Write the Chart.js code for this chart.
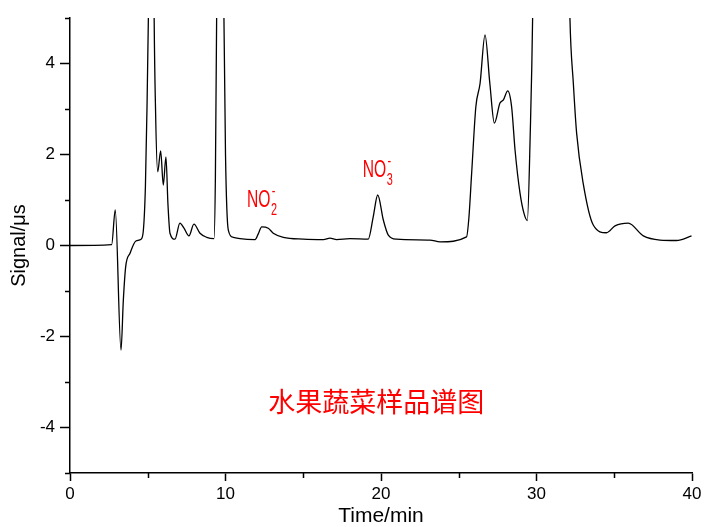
<!DOCTYPE html>
<html>
<head>
<meta charset="utf-8">
<script src="https://cdn.jsdelivr.net/npm/chart.js@4"></script>
<style>
  html, body { margin: 0; padding: 0; background: #fff; }
  #wrap { width: 705px; height: 527px; }
</style>
</head>
<body>
<div id="wrap"><canvas id="chromChart" width="705" height="527"></canvas></div>
<script>
// retention time (min) and conductivity signal (uS)
const times = [0, 2.68, 2.91, 3.28, 3.43, 3.58, 3.86, 4.24, 4.57, 4.72, 4.85, 4.95, 5.04, 5.18, 5.3, 5.4, 5.5, 5.64, 5.83, 6.0, 6.17, 6.3, 6.43, 6.75, 7.07, 7.33, 7.65, 7.97, 8.36, 8.79, 9.26, 9.35, 9.43, 9.6, 9.8, 9.9, 10.0, 10.18, 10.5, 10.93, 11.9, 12.1, 12.33, 12.75, 13.07, 13.72, 15.0, 16.3, 16.72, 17.15, 18.0, 19.18, 19.5, 19.79, 20.15, 20.47, 21.0, 23.15, 23.8, 25.5, 25.65, 25.83, 26.1, 26.37, 26.69, 27.0, 27.29, 27.65, 27.87, 28.15, 28.4, 28.62, 28.94, 29.2, 29.41, 29.6, 29.75, 30.2, 31.0, 31.8, 32.15, 32.37, 32.58, 33.0, 33.65, 34.5, 35.05, 35.9, 36.87, 37.94, 39.0, 39.97];
const signal = [0, 0.02, 0.78, -2.3, -1.2, -0.47, -0.17, 0.1, 0.14, 0.34, 1.3, 3.0, 5.0, 10, 12.5, 5.5, 3.0, 1.62, 2.08, 1.33, 1.95, 0.9, 0.27, 0.14, 0.49, 0.38, 0.21, 0.47, 0.27, 0.18, 0.15, 1.5, 5.0, 16, 9, 5.0, 2.0, 0.34, 0.18, 0.15, 0.13, 0.25, 0.41, 0.38, 0.27, 0.18, 0.14, 0.13, 0.16, 0.13, 0.15, 0.14, 0.63, 1.11, 0.56, 0.23, 0.14, 0.12, 0.08, 0.19, 0.6, 1.59, 3.05, 3.56, 4.63, 3.56, 2.69, 3.13, 3.2, 3.4, 3.05, 2.1, 1.15, 0.7, 0.55, 2.5, 5.0, 20, 30, 12, 5.0, 3.56, 2.47, 1.37, 0.45, 0.28, 0.43, 0.49, 0.21, 0.12, 0.11, 0.21];

const minorX = [5, 15, 25, 35];
const minorY = [-5, -3, -1, 1, 3, 5];

// peak labels: [base, subscript, superscript, x, y(baseline)]
const ionLabels = [
    ['NO', '2', '-', 11.38, 0.85],
    ['NO', '3', '-', 18.82, 1.51]
];
const sampleTitle = '水果蔬菜样品谱图';
const sampleTitlePos = [19.7, -3.44];

const points = times.map((t, i) => ({ x: t, y: signal[i] }));

const extrasPlugin = {
    id: 'extras',
    afterDraw(chart) {
        const ctx = chart.ctx;
        const xs = chart.scales.x;
        const ys = chart.scales.y;
        const area = chart.chartArea;

        // minor ticks
        ctx.save();
        ctx.strokeStyle = '#000';
        ctx.lineWidth = 1.5;
        ctx.beginPath();
        minorX.forEach(v => {
            const px = Math.round(xs.getPixelForValue(v)) + 0.5;
            ctx.moveTo(px, area.bottom);
            ctx.lineTo(px, area.bottom + 5);
        });
        minorY.forEach(v => {
            const py = Math.round(ys.getPixelForValue(v)) + 0.5;
            ctx.moveTo(area.left, py);
            ctx.lineTo(area.left - 5, py);
        });
        ctx.stroke();
        ctx.restore();

        // ion labels
        ionLabels.forEach(l => {
            const px = xs.getPixelForValue(l[3]);
            const py = ys.getPixelForValue(l[4]);
            ctx.save();
            ctx.fillStyle = '#ff0000';
            ctx.textBaseline = 'alphabetic';
            ctx.translate(px, py);
            ctx.scale(0.68, 1);
            ctx.font = '23px "Liberation Sans", Arial, sans-serif';
            ctx.fillText(l[0], 0, 0);
            const w = ctx.measureText(l[0]).width;
            ctx.font = '16px "Liberation Sans", Arial, sans-serif';
            ctx.fillText(l[1], w + 1, 8);
            ctx.fillText(l[2], w + 2, -11);
            ctx.restore();
        });

        // sample caption
        ctx.save();
        ctx.fillStyle = '#ff0000';
        ctx.font = '27px "Noto Sans CJK SC", sans-serif';
        ctx.textAlign = 'center';
        ctx.textBaseline = 'middle';
        ctx.fillText(sampleTitle, xs.getPixelForValue(sampleTitlePos[0]), ys.getPixelForValue(sampleTitlePos[1]));
        ctx.restore();
    }
};

const ctxChrom = document.getElementById('chromChart').getContext('2d');

new Chart(ctxChrom, {
    type: 'line',
    data: {
        datasets: [{
            data: points,
            borderColor: '#000',
            borderWidth: 1.3,
            pointRadius: 0,
            fill: false,
            cubicInterpolationMode: 'monotone',
            clip: 0
        }]
    },
    options: {
        responsive: false,
        animation: false,
        layout: { padding: { left: 0, top: 18, right: 13, bottom: 0 } },
        plugins: {
            legend: { display: false },
            tooltip: { enabled: false }
        },
        scales: {
            x: {
                type: 'linear',
                min: 0,
                max: 40,
                afterFit: scale => { scale.height = 54; },
                ticks: {
                    stepSize: 10,
                    color: '#000',
                    padding: 3,
                    maxRotation: 0,
                    font: { family: '"Liberation Sans", Arial, sans-serif', size: 17 }
                },
                grid: { drawOnChartArea: false, tickLength: 8, tickWidth: 1.5, tickColor: '#000' },
                border: { display: true, color: '#000', width: 1.5 },
                title: {
                    display: true,
                    text: 'Time/min',
                    color: '#000',
                    padding: { top: 0, bottom: -2 },
                    font: { family: '"Liberation Sans", Arial, sans-serif', size: 21 }
                }
            },
            y: {
                min: -5,
                max: 5,
                afterFit: scale => { scale.width = 70; },
                afterBuildTicks: scale => {
                    scale.ticks = scale.ticks.filter(t => t.value % 2 === 0);
                },
                ticks: {
                    stepSize: 1,
                    color: '#000',
                    padding: 5,
                    font: { family: '"Liberation Sans", Arial, sans-serif', size: 17 }
                },
                grid: { drawOnChartArea: false, tickLength: 10, tickWidth: 1.5, tickColor: '#000' },
                border: { display: true, color: '#000', width: 1.5 },
                title: {
                    display: true,
                    text: 'Signal/μs',
                    color: '#000',
                    padding: { top: 7, bottom: 0 },
                    font: { family: '"Liberation Sans", Arial, sans-serif', size: 20 }
                }
            }
        }
    },
    plugins: [extrasPlugin]
});
</script>
</body>
</html>
